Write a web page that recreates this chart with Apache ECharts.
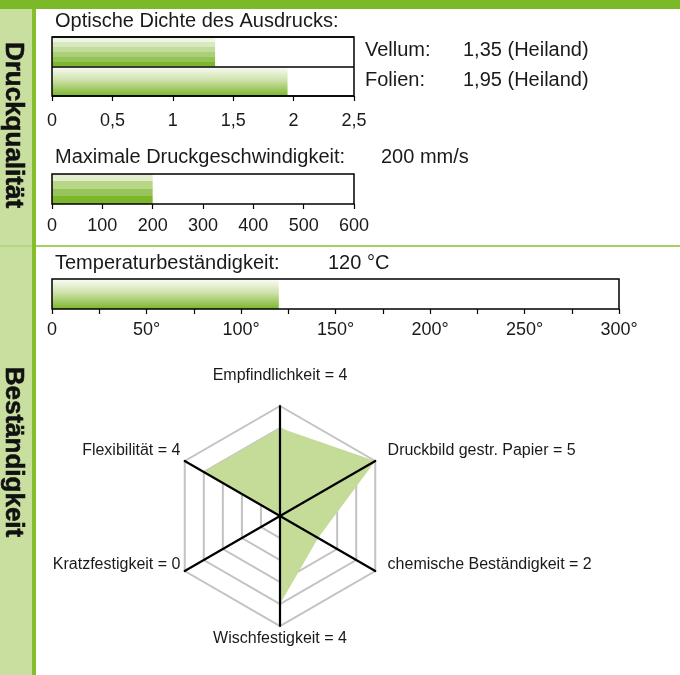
<!DOCTYPE html>
<html><head><meta charset="utf-8">
<script src="https://cdn.jsdelivr.net/npm/echarts@6/dist/echarts.min.js"></script>
<style>html,body{margin:0;padding:0;background:#fff}#c{width:680px;height:675px}</style>
</head><body><div id="c"></div>
<script>
// ---- data ----
const densityCats = ['Vellum', 'Folien'];
const densityVals = [1.35, 1.95];
const densitySource = 'Heiland';
const densityAxis = {min: 0, max: 2.5, interval: 0.5};
const speedCats = ['Druckgeschwindigkeit'];
const speedVals = [200];
const speedAxis = {min: 0, max: 600, interval: 100};
const tempCats = ['Temperatur'];
const tempVals = [120];
const tempAxis = {min: 0, max: 300, interval: 25, labelEvery: 50};
const radarNames = ['Empfindlichkeit', 'Druckbild gestr. Papier', 'chemische Beständigkeit', 'Wischfestigkeit', 'Kratzfestigkeit', 'Flexibilität'];
const radarVals = [4, 5, 2, 4, 0, 4];
const radarMax = 5;

// ---- styling ----
const FONT = 'Liberation Sans, Arial, sans-serif';
const TXT = '#1a1a1a';
const G_DARK = '#7db62b';
function bands(cols) {
  const stops = [];
  cols.forEach((c, i) => {
    stops.push({offset: i / cols.length, color: c});
    stops.push({offset: (i + 1) / cols.length, color: c});
  });
  return new echarts.graphic.LinearGradient(0, 0, 0, 1, stops);
}
function smooth() {
  return new echarts.graphic.LinearGradient(0, 0, 0, 1, [
    {offset: 0, color: '#fbfdf8'},
    {offset: 0.45, color: '#cfe3ad'},
    {offset: 1, color: G_DARK}
  ]);
}
const densityColors = [
  bands(['#eef5e3', '#d8e9bf', '#c1dc9b', '#a9cf78', '#93c356', G_DARK]),
  smooth()
];
const speedColor = bands(['#e1eece', '#b8d786', '#98c55b', G_DARK]);
const tempColor = smooth();

const comma = v => String(v).replace('.', ',');

function gridDef(left, top, width, height) {
  return {left, top, width, height, show: true, borderColor: '#000', borderWidth: 1.5, z: 5, containLabel: false};
}
function xDef(gi, ax, fmt, margin) {
  return {
    gridIndex: gi, type: 'value', min: ax.min, max: ax.max, interval: ax.interval,
    axisLine: {show: false},
    axisTick: {show: true, length: 5, lineStyle: {color: '#000', width: 1.2}},
    splitLine: {show: false},
    axisLabel: {color: TXT, fontSize: 18, fontFamily: FONT, margin: margin, formatter: fmt, hideOverlap: false},
    z: 5
  };
}
function yDef(gi, cats, split) {
  return {
    gridIndex: gi, type: 'category', data: cats, inverse: true,
    axisLine: {show: false}, axisTick: {show: false}, axisLabel: {show: false},
    splitLine: {show: split, lineStyle: {color: '#000', width: 1.5}},
    z: 5
  };
}

// radar order: ECharts lays indicators counter-clockwise from the top
const order = [0, 5, 4, 3, 2, 1];
// label padding per position (top, upper-left, lower-left, bottom, lower-right, upper-right)
const namePads = [[0, 0, 17, 0], [0, 0, 15, 0], [0, 0, 17, 0], [0, 0, 0, 0], [0, 0, 17, 8], [0, 0, 15, 8]];
const rich = {};
namePads.forEach((p, k) => { rich['p' + k] = {padding: p, fontSize: 16, fontFamily: FONT, color: TXT}; });
const indicators = order.map(i => ({name: radarNames[i] + ' = ' + radarVals[i], min: 0, max: radarMax}));

function txt(x, y, s, font, extra) {
  return Object.assign({
    type: 'text', x: x, y: y, z: 10,
    style: {text: s, font: font || ('20px ' + FONT), fill: TXT, align: 'left', verticalAlign: 'middle', textAlign: 'left', textVerticalAlign: 'middle'}
  }, extra || {});
}
function sideTxt(y, s) {
  return {type: 'text', x: 13, y: y, z: 10, rotation: -Math.PI / 2,
    style: {text: s, font: 'bold 26px ' + FONT, fill: '#111', stroke: '#111', lineWidth: 0.6, align: 'center', verticalAlign: 'middle', textAlign: 'center', textVerticalAlign: 'middle'}};
}

const chart = echarts.init(document.getElementById('c'), null, {renderer: 'canvas'});
chart.setOption({
  animation: false,
  backgroundColor: '#fff',
  graphic: [
    {type: 'rect', shape: {x: 0, y: 0, width: 680, height: 9}, style: {fill: '#7cb928'}, z: 1},
    {type: 'rect', shape: {x: 0, y: 9, width: 32, height: 666}, style: {fill: '#c8df9f'}, z: 1},
    {type: 'rect', shape: {x: 32, y: 9, width: 4, height: 666}, style: {fill: '#86bd2b'}, z: 1},
    {type: 'rect', shape: {x: 36, y: 245, width: 644, height: 2}, style: {fill: '#a6d062'}, z: 1},
    {type: 'rect', shape: {x: 0, y: 245, width: 32, height: 2}, style: {fill: '#b5d684'}, z: 1},
    sideTxt(125, 'Druckqualität'),
    sideTxt(452, 'Beständigkeit'),
    txt(55, 21, 'Optische Dichte des Ausdrucks:'),
    txt(365, 50, densityCats[0] + ':'),
    txt(463, 50, comma(densityVals[0].toFixed(2)) + ' (' + densitySource + ')'),
    txt(365, 80, densityCats[1] + ':'),
    txt(463, 80, comma(densityVals[1].toFixed(2)) + ' (' + densitySource + ')'),
    txt(55, 157, 'Maximale Druckgeschwindigkeit:'),
    txt(381, 157, speedVals[0] + ' mm/s'),
    txt(55, 263, 'Temperaturbeständigkeit:'),
    txt(328, 263, tempVals[0] + ' °C')
  ],
  grid: [gridDef(52, 37, 302, 59), gridDef(52, 174, 302, 30), gridDef(52, 279, 567, 30)],
  xAxis: [
    xDef(0, densityAxis, v => comma(v), 16),
    xDef(1, speedAxis, v => String(v), 13),
    xDef(2, tempAxis, v => (v % tempAxis.labelEvery === 0 ? (v === 0 ? '0' : v + '°') : ''), 12)
  ],
  yAxis: [yDef(0, densityCats, true), yDef(1, speedCats, false), yDef(2, tempCats, false)],
  radar: [
    {
      center: [280, 516], radius: 110, startAngle: 90, splitNumber: 5, shape: 'polygon',
      indicator: indicators, axisNameGap: 5, nameGap: 5,
      axisName: {
        color: TXT, fontSize: 16, fontFamily: FONT,
        formatter: (name) => { const k = indicators.findIndex(d => d.name === name); return '{p' + k + '|' + name + '}'; },
        rich: rich
      },
      axisLine: {show: false}, axisTick: {show: false}, axisLabel: {show: false},
      splitLine: {show: true, lineStyle: {color: '#c2c2c2', width: 2}},
      splitArea: {show: false}, z: 0
    },
    {
      center: [280, 516], radius: 110, startAngle: 90, splitNumber: 5, shape: 'polygon',
      indicator: indicators, axisName: {show: false},
      axisLine: {show: true, lineStyle: {color: '#000', width: 2.2}},
      axisTick: {show: false}, axisLabel: {show: false},
      splitLine: {show: false}, splitArea: {show: false}, z: 3
    }
  ],
  series: [
    {type: 'bar', xAxisIndex: 0, yAxisIndex: 0, barCategoryGap: '0%', z: 2,
      data: densityVals.map((v, i) => ({value: v, itemStyle: {color: densityColors[i]}}))},
    {type: 'bar', xAxisIndex: 1, yAxisIndex: 1, barCategoryGap: '0%', z: 2,
      data: speedVals.map(v => ({value: v, itemStyle: {color: speedColor}}))},
    {type: 'bar', xAxisIndex: 2, yAxisIndex: 2, barCategoryGap: '0%', z: 2,
      data: tempVals.map(v => ({value: v, itemStyle: {color: tempColor}}))},
    {type: 'radar', radarIndex: 0, symbol: 'none', z: 2,
      lineStyle: {width: 0, opacity: 0},
      areaStyle: {color: '#c5dc98', opacity: 1},
      data: [{value: order.map(i => radarVals[i])}]}
  ]
});
</script></body></html>
